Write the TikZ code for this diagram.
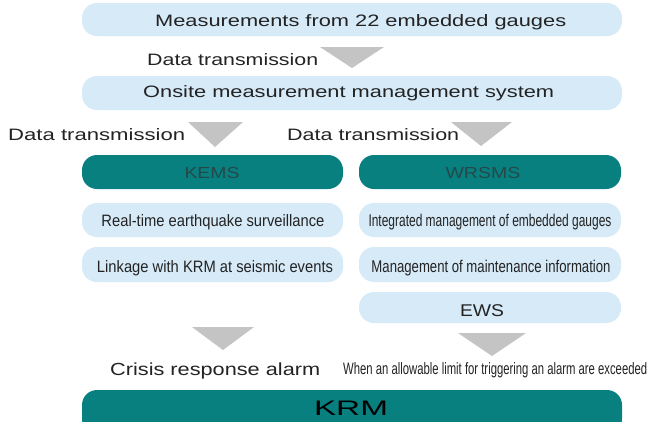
\documentclass[tikz,border=0pt]{standalone}
\usepackage{fontspec}
\setmainfont{Liberation Sans}
\usepackage{graphicx}
\definecolor{lb}{RGB}{214,234,248}
\definecolor{tealbox}{RGB}{8,128,128}
\definecolor{tri}{RGB}{196,196,196}
\definecolor{tdark}{RGB}{35,35,35}
\definecolor{kem}{RGB}{38,72,72}
\newcommand{\fitw}[2]{\resizebox{#1pt}{\height}{#2}}
\newcommand{\fsz}[1]{\fontsize{#1}{#1}\selectfont}
\begin{document}
\begin{tikzpicture}[x=1pt,y=-1pt,
  lbox/.style={fill=lb, draw=none, rounded corners=15pt, inner sep=0pt},
  tbox/.style={fill=tealbox, draw=none, rounded corners=15pt, inner sep=0pt},
  tx/.style={inner sep=0pt, anchor=base, text=tdark},
  txw/.style={inner sep=0pt, anchor=base west, text=tdark},
  arr/.style={fill=tri, draw=none}]
\clip (0,0) rectangle (648,421);
\fill[white] (0,0) rectangle (648,421);
% boxes
\node[lbox, minimum width=540pt, minimum height=33pt] (top) at (352,19.5) {};
\node[lbox, minimum width=540pt, minimum height=34pt] (onsite) at (352,93) {};
\node[tbox, minimum width=261pt, minimum height=34pt] (kems) at (212.5,172) {};
\node[tbox, minimum width=262pt, minimum height=34pt] (wrsms) at (490,172) {};
\node[lbox, minimum width=261pt, minimum height=34pt] (rt) at (212.5,220) {};
\node[lbox, minimum width=261pt, minimum height=35pt] (lk) at (212.5,264.5) {};
\node[lbox, minimum width=262pt, minimum height=34pt] (ig) at (490,220) {};
\node[lbox, minimum width=262pt, minimum height=35pt] (mm) at (490,264.5) {};
\node[lbox, minimum width=262pt, minimum height=31pt] (ews) at (490,307.5) {};
\node[tbox, minimum width=540pt, minimum height=44pt] (krm) at (352,412) {};
% triangles
\coordinate (t1) at (352,68);
\fill[arr] (320,47) -- (384,47) -- (t1) -- cycle;
\coordinate (t2) at (215,147);
\fill[arr] (188,122) -- (243,122) -- (t2) -- cycle;
\coordinate (t3) at (481,146);
\fill[arr] (451,122) -- (512,122) -- (t3) -- cycle;
\coordinate (t4) at (223,350);
\fill[arr] (192,327) -- (254,327) -- (t4) -- cycle;
\coordinate (t5) at (492,356);
\fill[arr] (458,333) -- (526,333) -- (t5) -- cycle;
% texts
\node[txw, font=\fsz{16.5}] (l1) at (155,26.5) {\fitw{411}{Measurements from 22 embedded gauges}};
\node[txw, font=\fsz{16.5}] (l2) at (147,65) {\fitw{171}{Data transmission}};
\node[txw, font=\fsz{16.5}] (l3) at (143,97) {\fitw{411}{Onsite measurement management system}};
\node[txw, font=\fsz{16.5}] (l4) at (8,140) {\fitw{177}{Data transmission}};
\node[txw, font=\fsz{16.5}] (l5) at (287,140) {\fitw{172}{Data transmission}};
\node[tx, font=\fsz{16}, text=kem] (l6) at (212,178) {\fitw{55}{KEMS}};
\node[tx, font=\fsz{16}, text=kem] (l7) at (483,178) {\fitw{75}{WRSMS}};
\node[tx, font=\fsz{16.5}] (l8) at (213,226.5) {\fitw{223}{Real-time earthquake surveillance}};
\node[tx, font=\fsz{16.5}] (l9) at (215,272) {\fitw{236}{Linkage with KRM at seismic events}};
\node[tx, font=\fsz{17}] (l10) at (490,226.5) {\fitw{243}{Integrated management of embedded gauges}};
\node[tx, font=\fsz{17}] (l11) at (491,272) {\fitw{239}{Management of maintenance information}};
\node[tx, font=\fsz{17}] (l12) at (482,316) {\fitw{44}{EWS}};
\node[txw, font=\fsz{17.5}] (l13) at (110,375) {\fitw{210}{Crisis response alarm}};
\node[txw, font=\fsz{16.5}] (l14) at (343,374.5) {\fitw{304}{When an allowable limit for triggering an alarm are exceeded}};
\node[tx, font=\fsz{21}, text=black] (l15) at (351,415) {\fitw{74}{KRM}};
\end{tikzpicture}
\end{document}
